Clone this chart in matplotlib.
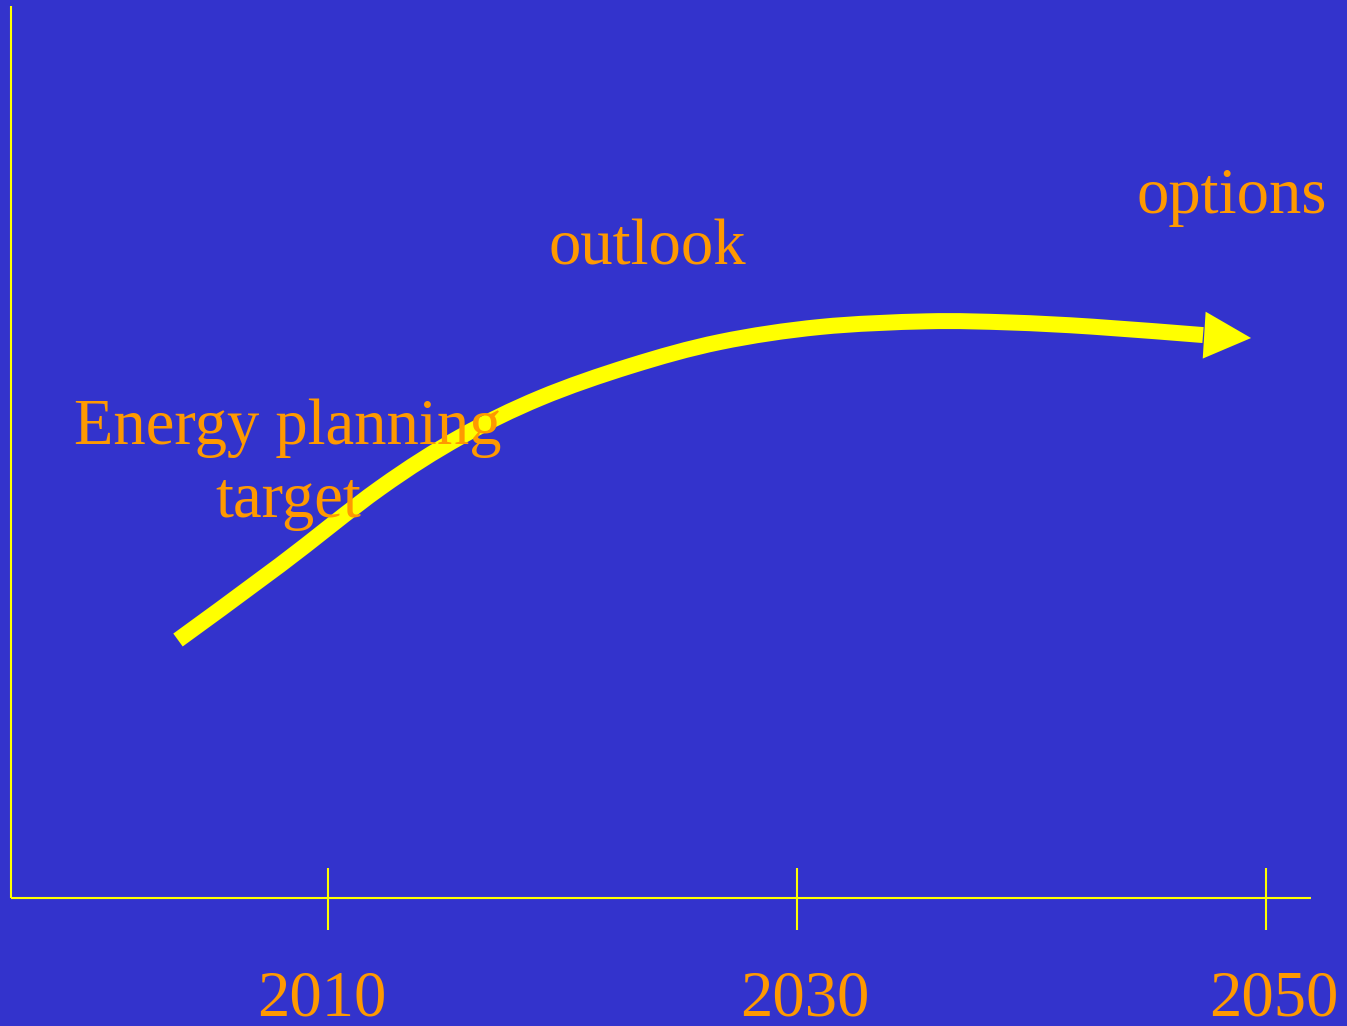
import matplotlib
matplotlib.use("Agg")
import matplotlib.pyplot as plt
import numpy as np
from matplotlib.patches import Polygon, PathPatch
from matplotlib.path import Path
from matplotlib.transforms import IdentityTransform

# Trajectory of the planning horizon (year, relative level 0-100)
years = [2003.60, 2007.95, 2012.22, 2015.63, 2019.04, 2022.88, 2026.72,
         2030.98, 2035.54, 2039.08, 2042.62, 2047.31]
levels = [28.73, 37.08, 45.66, 51.34, 55.68, 59.24, 61.92,
          63.59, 64.22, 64.09, 63.62, 62.69]
arrow_tip = (2049.36, 62.36)

tick_years = [2010, 2030, 2050]
tick_labels = ["2010", "2030", "2050"]

stage_labels = ["Energy planning\ntarget", "outlook", "options"]

BG = "#3333CC"
YELLOW = "#FFFF00"
ORANGE = "#FF9900"

fig = plt.figure(figsize=(13.47, 10.26), dpi=100, facecolor=BG)
ax = fig.add_axes([0, 0, 1, 1], facecolor=BG)
ax.set_xlim(1996.01, 2053.45)
ax.set_ylim(-14.25, 100)
ax.axis("off")

# Axes drawn as thin yellow lines
ax.plot([1996.48, 1996.48], [0, 99.3], color=YELLOW, lw=1.5, solid_capstyle="butt")
ax.plot([1996.48, 2051.9], [0, 0], color=YELLOW, lw=1.5, solid_capstyle="butt")
for ty in tick_years:
    ax.plot([ty, ty], [-3.56, 3.34], color=YELLOW, lw=1.5, solid_capstyle="butt")

# Smooth trajectory: Catmull-Rom segments through the points, drawn as cubic Beziers
fig.canvas.draw()
pts = ax.transData.transform(np.column_stack([years, levels]))
verts = [pts[0]]
codes = [Path.MOVETO]
for i in range(len(pts) - 1):
    p0 = pts[i - 1] if i > 0 else pts[i]
    p1, p2 = pts[i], pts[i + 1]
    p3 = pts[i + 2] if i + 2 < len(pts) else pts[i + 1]
    c1 = p1 + (p2 - p0) / 6.0
    c2 = p2 - (p3 - p1) / 6.0
    verts += [c1, c2, p2]
    codes += [Path.CURVE4] * 3
curve = PathPatch(Path(verts, codes), facecolor="none", edgecolor=YELLOW, lw=11.5,
                  capstyle="butt", joinstyle="round",
                  transform=IdentityTransform(), zorder=3)
ax.add_patch(curve)

# Arrow head built in pixel space from the end of the trajectory
tip = ax.transData.transform(arrow_tip)
end = pts[-1]
d = tip - end
d = d / np.hypot(*d)
n = np.array([-d[1], d[0]])
head_len, head_half = 47, 23.5
base = tip - head_len * d
head = np.array([tip, base + head_half * n, base - head_half * n])
ax.add_patch(Polygon(head, closed=True, facecolor=YELLOW, edgecolor="none",
                     transform=IdentityTransform(), zorder=3))

font = dict(family="Liberation Serif", size=46.5, color=ORANGE)

# Stage captions (anchored at the baseline of their last line)
stage_pos = [(2008.3, 42.4), (2023.6, 70.5), (2048.55, 76.3)]
for txt, (x, y) in zip(stage_labels, stage_pos):
    ax.text(x, y, txt, ha="center", va="baseline", multialignment="center",
            linespacing=1.3, zorder=5, **font)

# Year labels below the axis
label_x = [2009.75, 2030.35, 2050.35]
for lx, lab in zip(label_x, tick_labels):
    ax.text(lx, -13.1, lab, ha="center", va="baseline", zorder=5, **font)

fig.savefig("out.png", dpi=100, facecolor=BG)
